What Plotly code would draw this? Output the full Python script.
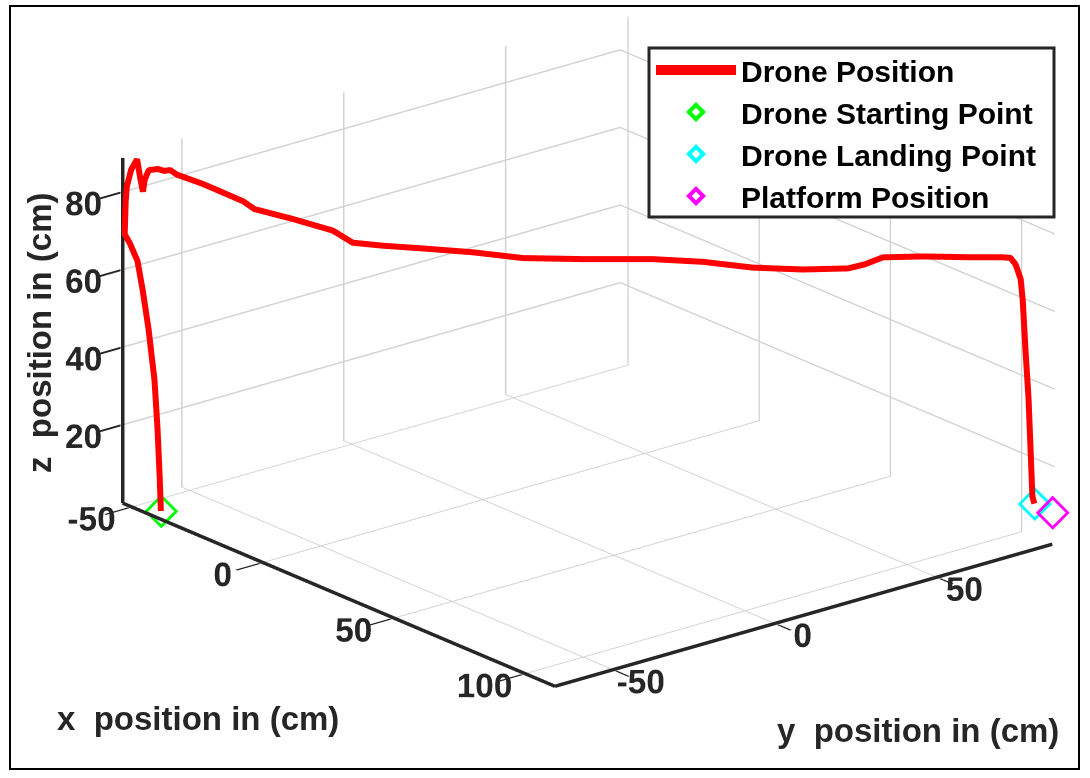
import plotly.graph_objects as go

# Flight log (cm): climb, cruise toward the platform, descent
x_pos = [-42.5, -42.8, -43.4, -44.2, -45.8, -47.3, -48.7, -50.8, -52.1, -52.1,
         -51.8, -50.6, -49.6, -49.1, -48.6, -48.3, -47.6, -46.6, -46.1, -45.6,
         -45.0, -40.5, -33.5, -31.5, -24.8, -17.9, -14.4, -9.2, -2.2, 6.5,
         15.2, 25.6, 37.8, 46.5, 55.2, 63.9, 71.7, 74.6, 77.8, 84.6,
         93.5, 98.6, 100.0, 101.3, 102.5, 103.0, 103.8, 104.5, 105.0, 105.5,
         106.0]
y_pos = [-65.0, -65.1, -65.3, -65.6, -66.1, -66.7, -67.2, -67.9, -68.4, -68.1,
         -68.0, -67.6, -66.6, -66.1, -65.6, -65.3, -64.6, -62.6, -61.1, -59.6,
         -58.0, -53.7, -46.9, -45.0, -38.5, -31.8, -28.5, -23.4, -16.7, -8.3,
         0.1, 10.2, 21.9, 30.3, 38.7, 47.1, 54.7, 57.5, 60.6, 67.2,
         75.7, 80.6, 82.0, 82.5, 83.1, 83.3, 83.6, 83.9, 84.1, 84.3,
         84.5]
z_pos = [0.0, 8.3, 21.0, 33.5, 46.0, 55.8, 63.2, 67.4, 69.4, 77.7,
         81.6, 86.3, 89.0, 84.5, 80.7, 83.8, 86.3, 86.4, 85.7, 85.7,
         84.3, 82.2, 78.1, 76.2, 74.0, 71.4, 68.5, 68.0, 67.7, 67.2,
         66.2, 66.5, 67.2, 67.0, 66.0, 66.0, 66.7, 67.9, 69.9, 70.5,
         70.8, 71.1, 71.0, 69.6, 66.0, 61.0, 47.1, 35.8, 23.2, 10.5,
         8.8]

start_point = [-42.5, -65.0, 0.0]
landing_point = [106.0, 84.5, 8.8]
platform_point = [112.2, 85.0, 8.2]

x_range = [-52.6, 112.2]
y_range = [-68.6, 85.0]
z_range = [0, 89]
x_ticks = [-50, 0, 50, 100]
y_ticks = [-50, 0, 50]
z_ticks = [20, 40, 60, 80]

FONT = "Liberation Sans, Arial, sans-serif"
GRID = "#d2d2d2"
INK = "#262626"
PAD = 0.4  # keeps the edge lines just inside the clipping box

fig = go.Figure()

# Heavy axis lines along the three front edges of the box
x0, x1 = x_range
y0, y1 = y_range
z0, z1 = z_range
for ex, ey, ez in [([x0, x1], [y0, y0], [z0, z0]),
                   ([x1, x1], [y0, y1], [z0, z0]),
                   ([x0, x0], [y0, y0], [z0, z1])]:
    fig.add_trace(go.Scatter3d(
        x=ex, y=ey, z=ez, mode="lines", showlegend=False, hoverinfo="skip",
        line=dict(color=INK, width=7)))

fig.add_trace(go.Scatter3d(
    x=x_pos, y=y_pos, z=z_pos, mode="lines", name="Drone Position",
    line=dict(color="#ff0000", width=12)))


def marker_trace(pt, color, name):
    return go.Scatter3d(
        x=[pt[0]], y=[pt[1]], z=[pt[2]], mode="markers", name=name,
        marker=dict(symbol="diamond-open", size=11, color=color,
                    line=dict(color=color, width=4)))


fig.add_trace(marker_trace(start_point, "#00ff00", "Drone Starting Point"))
fig.add_trace(marker_trace(landing_point, "#00ffff", "Drone Landing Point"))
fig.add_trace(marker_trace(platform_point, "#ff00ff", "Platform Position"))


def axis(rng, ticks, ticklen=20):
    return dict(
        range=[rng[0] - PAD, rng[1] + PAD],
        tickvals=ticks, ticktext=[str(t) for t in ticks],
        title=dict(text=""), showbackground=False,
        showgrid=True, gridcolor=GRID, gridwidth=3,
        zeroline=False, showline=False,
        ticks="outside", ticklen=ticklen, tickwidth=4, tickcolor=INK,
        tickangle=0,
        tickfont=dict(family=FONT, size=20, color=INK, weight="bold"),
        showspikes=False)


scale = 1.95
# Look-at point nudged so the box sits right of the page centre;
# the eye moves with it so the viewing direction stays the same.
shift = 0.121
center = dict(x=-0.635 * shift, y=-0.773 * shift, z=0.0)
view = dict(x=0.7246 * 2, y=-0.595 * 2, z=0.348 * 2)
eye = {k: center[k] + view[k] for k in ("x", "y", "z")}

fig.update_layout(
    width=1090, height=778,
    margin=dict(l=0, r=0, t=0, b=0),
    paper_bgcolor="white",
    showlegend=True,
    scene=dict(
        domain=dict(x=[0.0, 1.0], y=[0.098, 1.0]),
        xaxis=axis(x_range, x_ticks, 20),
        yaxis=axis(y_range, y_ticks, 30),
        zaxis=axis(z_range, z_ticks, 20),
        aspectmode="manual",
        aspectratio=dict(x=1.0 * scale, y=0.945 * scale, z=0.543 * scale),
        camera=dict(
            eye=eye,
            up=dict(x=0, y=0, z=1),
            center=center,
            projection=dict(type="orthographic")),
    ),
    legend=dict(
        x=651 / 1090, y=1 - 44 / 778, xanchor="left", yanchor="top",
        bgcolor="rgba(0,0,0,0)", borderwidth=0,
        itemwidth=80, tracegroupgap=0,
        font=dict(family=FONT, size=30, color="black", weight="bold")),
    annotations=[
        dict(text="x  position in (cm)", x=198 / 1090, y=1 - 718 / 778,
             xref="paper", yref="paper", showarrow=False,
             xanchor="center", yanchor="middle",
             font=dict(family=FONT, size=33, color=INK, weight="bold")),
        dict(text="y  position in (cm)", x=918 / 1090, y=1 - 730 / 778,
             xref="paper", yref="paper", showarrow=False,
             xanchor="center", yanchor="middle",
             font=dict(family=FONT, size=33, color=INK, weight="bold")),
        dict(text="z  position in (cm)", x=40 / 1090, y=1 - 333 / 778,
             xref="paper", yref="paper", showarrow=False, textangle=-90,
             xanchor="center", yanchor="middle",
             font=dict(family=FONT, size=33, color=INK, weight="bold")),
    ],
    shapes=[
        dict(type="rect", xref="paper", yref="paper",
             x0=10 / 1090, x1=1079 / 1090, y0=1 - 769 / 778, y1=1 - 6 / 778,
             line=dict(color="black", width=2)),
        dict(type="rect", xref="paper", yref="paper", layer="above",
             x0=649 / 1090, x1=1054 / 1090, y0=1 - 217 / 778, y1=1 - 48 / 778,
             fillcolor="white", line=dict(color=INK, width=3)),
    ],
)

fig.write_html("out.html")
